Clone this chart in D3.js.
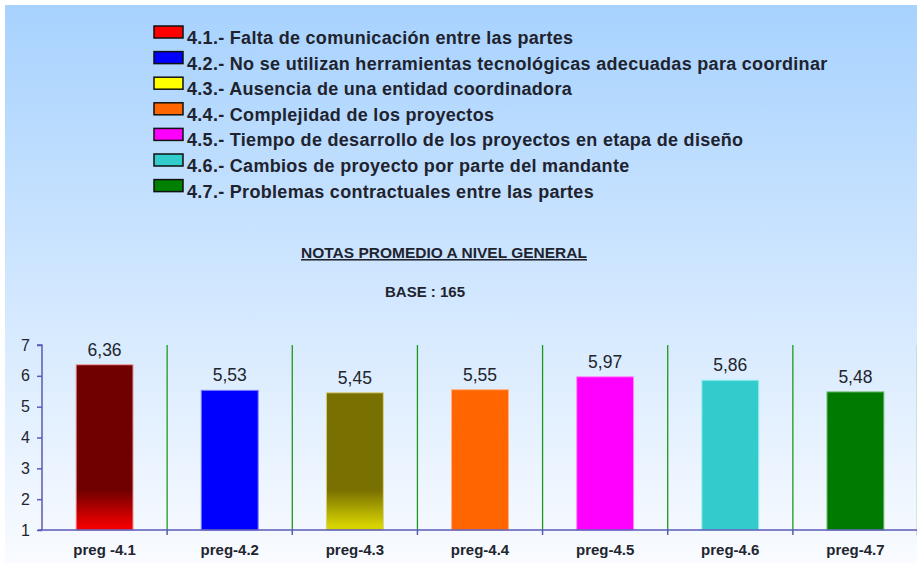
<!DOCTYPE html>
<html>
<head>
<meta charset="utf-8">
<script src="https://cdn.jsdelivr.net/npm/d3@7"></script>
<style>
  body { margin: 0; background: #fff; }
  svg { display: block; font-family: "Liberation Sans", Arial, sans-serif; }
</style>
</head>
<body>
<div id="chart"></div>
<script>
const categories = ["preg -4.1", "preg-4.2", "preg-4.3", "preg-4.4", "preg-4.5", "preg-4.6", "preg-4.7"]
const values = [6.36, 5.53, 5.45, 5.55, 5.97, 5.86, 5.48]
const valueLabels = ["6,36", "5,53", "5,45", "5,55", "5,97", "5,86", "5,48"]
const legendLabels = [
  "4.1.- Falta de comunicación entre las partes",
  "4.2.- No se utilizan herramientas tecnológicas adecuadas para coordinar",
  "4.3.- Ausencia de una entidad coordinadora",
  "4.4.- Complejidad de los proyectos",
  "4.5.- Tiempo de desarrollo de los proyectos en etapa de diseño",
  "4.6.- Cambios de proyecto por parte del mandante",
  "4.7.- Problemas contractuales entre las partes"
]
const legendColors = ["#ff0000", "#0000ff", "#ffff00", "#ff6600", "#ff00ff", "#33cccc", "#008000"]
// bar fill: top colour, bottom colour (gradient only on a couple of bars)
const barTop = ["#700000", "#0000ff", "#787000", "#ff6600", "#ff00ff", "#33cccc", "#007a00"]
const barBottom = ["#f00000", "#0000ff", "#d8d400", "#ff6600", "#ff00ff", "#33cccc", "#007a00"]
const barStroke = ["#f3a0a0", "#8080ff", "#d8d080", "#ffb080", "#ff90ff", "#a0f0f0", "#80c080"]
const yTicks = [1, 2, 3, 4, 5, 6, 7]
const title = "NOTAS PROMEDIO A NIVEL GENERAL"
const subtitle = "BASE : 165"

const W = 917, H = 563
const svg = d3.select("#chart").append("svg")
  .attr("width", W).attr("height", H)

// scales
const x = d3.scaleBand().domain(categories).range([42, 918]).padding(0)
const y = d3.scaleLinear().domain([1, 7]).range([530, 345])

const defs = svg.append("defs")
const bg = defs.append("linearGradient").attr("id", "bg")
  .attr("x1", 0).attr("y1", 0).attr("x2", 0).attr("y2", 1)
bg.append("stop").attr("offset", "0%").attr("stop-color", "#a7d2fe")
bg.append("stop").attr("offset", "100%").attr("stop-color", "#f9fbff")

barTop.forEach((c, i) => {
  const g = defs.append("linearGradient").attr("id", "bar" + i)
    .attr("gradientUnits", "userSpaceOnUse")
    .attr("x1", 0).attr("y1", y(1) - 40).attr("x2", 0).attr("y2", y(1) - 4)
  g.append("stop").attr("offset", "0%").attr("stop-color", c)
  g.append("stop").attr("offset", "100%").attr("stop-color", barBottom[i])
})

svg.append("rect")
  .attr("x", 5).attr("y", 5).attr("width", W - 5).attr("height", H - 5)
  .attr("fill", "url(#bg)")

// legend
const legend = svg.append("g")
const row = legend.selectAll("g")
  .data(legendLabels)
  .join("g")
  .attr("transform", (d, i) => `translate(154,${26 + i * 25.6})`)

row.append("rect")
  .attr("width", 29).attr("height", 12)
  .attr("fill", (d, i) => legendColors[i])
  .attr("stroke", "#111").attr("stroke-width", 1.5)

row.append("text")
  .attr("x", 33).attr("y", 18)
  .attr("font-size", 18).attr("font-weight", "bold")
  .attr("letter-spacing", 0.3)
  .attr("fill", "#20232e")
  .text(d => d)

// titles
svg.append("text")
  .attr("x", 444).attr("y", 258)
  .attr("text-anchor", "middle")
  .attr("font-size", 15.5).attr("font-weight", "bold")
  .attr("fill", "#20232e")
  .attr("text-decoration", "underline")
  .text(title)

svg.append("text")
  .attr("x", 425).attr("y", 297)
  .attr("text-anchor", "middle")
  .attr("font-size", 15).attr("font-weight", "bold")
  .attr("fill", "#20232e")
  .text(subtitle)

// vertical separators between categories
const seps = categories.slice(1).map(c => x(c)).concat([x.range()[1] - 0.5])
svg.append("g").selectAll("line")
  .data(seps)
  .join("line")
  .attr("x1", d => d).attr("x2", d => d)
  .attr("y1", y(7)).attr("y2", y(1))
  .attr("stroke", "#1a9a1a").attr("stroke-width", 1.3)

// bars
const barW = x.bandwidth() * 0.455
svg.append("g").selectAll("rect")
  .data(values)
  .join("rect")
  .attr("x", (d, i) => x(categories[i]) + (x.bandwidth() - barW) / 2)
  .attr("y", d => y(d))
  .attr("width", barW)
  .attr("height", d => y(1) - y(d))
  .attr("fill", (d, i) => `url(#bar${i})`)
  .attr("stroke", (d, i) => barStroke[i])
  .attr("stroke-width", 1)

// value labels
svg.append("g").selectAll("text")
  .data(values)
  .join("text")
  .attr("x", (d, i) => x(categories[i]) + x.bandwidth() / 2)
  .attr("y", d => y(d) - 9)
  .attr("text-anchor", "middle")
  .attr("font-size", 17.5)
  .attr("fill", "#22252e")
  .text((d, i) => valueLabels[i])

// y axis
const yAxis = svg.append("g")
  .attr("transform", "translate(42,0)")
  .call(d3.axisLeft(y).tickValues(yTicks).tickSize(5).tickPadding(7).tickFormat(d3.format("d")))
yAxis.select(".domain").attr("stroke", "#5a5ab8").attr("stroke-width", 1.5)
  .attr("d", `M-5,${y(7)}H0V${y(1)}`)
yAxis.selectAll(".tick line").attr("stroke", "#5a5ab8").attr("stroke-width", 1.5)
yAxis.selectAll(".tick text").attr("font-size", 16).attr("fill", "#22252e")
  .attr("font-family", "Liberation Sans, Arial, sans-serif")

// x axis
const xAxis = svg.append("g")
  .attr("transform", `translate(0,${y(1)})`)
  .call(d3.axisBottom(x).tickSize(0).tickPadding(14))
xAxis.select(".domain").attr("stroke", "#5a5ab8").attr("stroke-width", 1.5)
  .attr("d", `M38,0H917`)
xAxis.selectAll(".tick text").attr("font-size", 15).attr("font-weight", "bold")
  .attr("fill", "#22252e").attr("font-family", "Liberation Sans, Arial, sans-serif")
xAxis.append("g").selectAll("line")
  .data(seps)
  .join("line")
  .attr("x1", d => d).attr("x2", d => d)
  .attr("y1", 0).attr("y2", 5)
  .attr("stroke", "#5a5ab8").attr("stroke-width", 1.5)
</script>
</body>
</html>
